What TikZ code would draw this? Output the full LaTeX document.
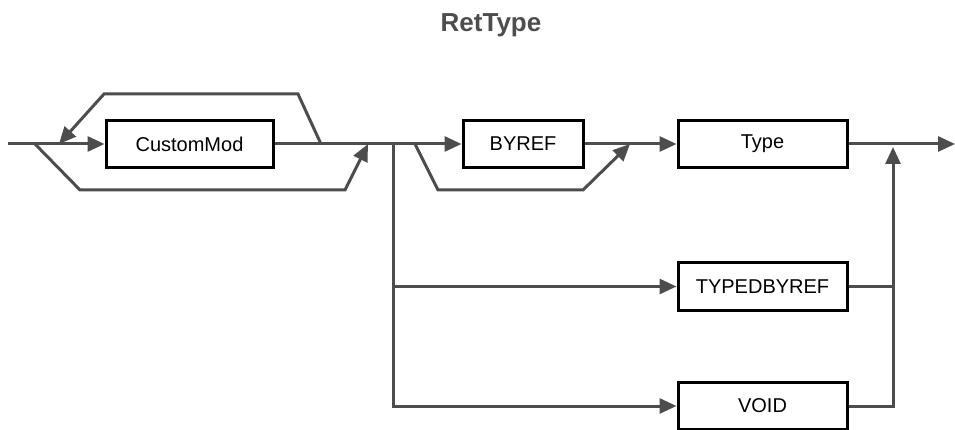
\documentclass[tikz,border=0pt]{standalone}
\usepackage{fontspec}
\setmainfont{Liberation Sans}
\usetikzlibrary{arrows.meta}
\definecolor{ln}{HTML}{4D4D4D}
\tikzset{
  box/.style={draw=black, line width=3pt, fill=white, minimum height=47pt, inner sep=0pt, font=\fontsize{20}{22}\selectfont, text=black},
  conn/.style={draw=ln, line width=3pt},
  arr/.style={conn, -{Triangle[length=17pt,width=15pt]}},
}
\begin{document}
\begin{tikzpicture}[x=1pt,y=-1pt]
\useasboundingbox (0,0) rectangle (955,430);
\node[font=\bfseries\fontsize{26}{28}\selectfont, text=ln, anchor=base] (title) at (491,32) {RetType};
\node[box, minimum width=167pt] (cm) at (189.5,144) {CustomMod};
\node[box, minimum width=120pt] (byref) at (523,144) {BYREF};
\node[box, minimum width=169pt] (type) at (762.5,144) {Type};
\node[box, minimum width=169pt] (tbr) at (762.5,286.5) {TYPEDBYREF};
\node[box, minimum width=169pt] (void) at (762.5,406) {VOID};
\coordinate (start) at (8,144);
\coordinate (finish) at (955,144);
\coordinate (loopA) at (321,144);
\coordinate (loopB) at (298,94);
\coordinate (loopC) at (104,94);
\coordinate (loopD) at (59,144);
\coordinate (skA) at (35,144);
\coordinate (skB) at (80,190);
\coordinate (skC) at (345,190);
\coordinate (skD) at (368,144);
\coordinate (br) at (393,144);
\coordinate (bsA) at (415,144);
\coordinate (bsB) at (438,190);
\coordinate (bsC) at (583,190);
\coordinate (bsD) at (630,144);
\coordinate (jx) at (893,147);
% main line
\draw[arr] (start) -- (cm.west);
\draw[arr] (cm.east) -- (byref.west);
\draw[arr] (byref.east) -- (type.west);
\draw[arr] (type.east) -- (finish);
% CustomMod repetition loop
\draw[arr] (loopA) -- (loopB) -- (loopC) -- (loopD);
% CustomMod bypass
\draw[arr] (skA) -- (skB) -- (skC) -- (skD);
% BYREF bypass
\draw[arr] (bsA) -- (bsB) -- (bsC) -- (bsD);
% branches
\draw[arr] (br) -- (br |- void.west) -- (void.west);
\draw[arr] (br |- tbr.west) -- (tbr.west);
\draw[arr] (void.east) -- (jx |- void.east) -- (jx);
\draw[conn] (tbr.east) -- (jx |- tbr.east);
\end{tikzpicture}
\end{document}
